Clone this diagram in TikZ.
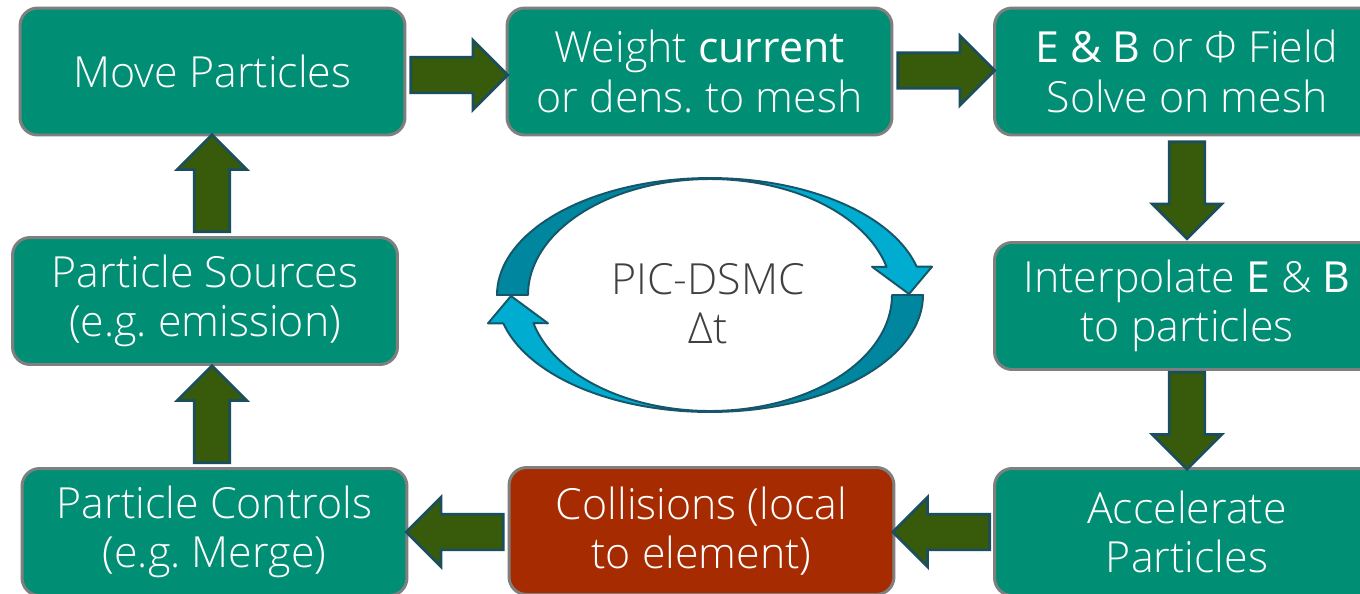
\documentclass[tikz,border=0pt]{standalone}
\usepackage{fontspec}
\setmainfont{Open Sans Light}[BoldFont=Open Sans]
\usetikzlibrary{shapes.arrows,calc}
\definecolor{boxgreen}{HTML}{008E74}
\definecolor{boxred}{HTML}{A62B00}
\definecolor{boxedge}{HTML}{7F7F7F}
\definecolor{arrowfill}{HTML}{375A0B}
\definecolor{arrowedge}{HTML}{1B4E5E}
\definecolor{looplight}{HTML}{00ACCF}
\definecolor{loopdark}{HTML}{00879F}
\definecolor{loopedge}{HTML}{17566A}
\definecolor{looptext}{HTML}{404040}

\tikzset{
  stepbox/.style={draw=boxedge, fill=boxgreen, line width=1.7pt, rounded corners=10pt,
    minimum width=7.7cm, minimum height=2.54cm, inner sep=0pt, text=white, align=center,
    font=\fontsize{24.4}{28}\selectfont},
  fatarrow/.style={single arrow, draw=arrowedge, fill=arrowfill, line width=1.5pt,
    inner xsep=0pt, inner ysep=0.33cm, single arrow head extend=0.34cm,
    single arrow tip angle=90, minimum height=1.94cm, anchor=tail},
  piece/.style={draw=loopedge, line width=1.1pt, line join=round}
}

\begin{document}
\begin{tikzpicture}[x=0.02cm, y=-0.02cm]

          \useasboundingbox (0,0) rectangle (1360,593);
          \clip (0,0) rectangle (1360,593);
          \fill[white] (0,0) rectangle (1360,593);

          \node[stepbox] (move) at (212.5,71.5) {Move Particles};
          \node[stepbox] (weight) at (699.5,71.5) {Weight \textbf{current}\\or dens.\ to mesh};
          \node[stepbox] (field) at (1187,71.5) {\textbf{E \& B} or Φ Field\\Solve on mesh};
          \node[stepbox] (interp) at (1187,306) {Interpolate \textbf{E} \& \textbf{B}\\to particles};
          \node[stepbox] (accel) at (1187,532) {Accelerate\\Particles};
          \node[stepbox, fill=boxred] (coll) at (701.5,531) {Collisions (local\\to element)};
          \node[stepbox] (ctrl) at (214.5,532) {Particle Controls\\(e.g.\ Merge)};
          \node[stepbox] (src) at (205,301) {Particle Sources\\(e.g.\ emission)};

          % block arrows between the steps
          \node[fatarrow] (a1) at ($(move.east)+(3,3.5)$) {};
          \node[fatarrow] (a2) at ($(weight.east)+(3,-1)$) {};
          \node[fatarrow, rotate=-90] (a3) at ($(field.south)+(0,4)$) {};
          \node[fatarrow, rotate=-90] (a4) at ($(interp.south)+(0,0)$) {};
          \node[fatarrow, rotate=180] (a5) at ($(accel.west)+(-2,0)$) {};
          \node[fatarrow, rotate=180] (a6) at ($(coll.west)+(-3,1)$) {};
          \node[fatarrow, rotate=90] (a7) at ($(ctrl.north)+(-2.5,-3)$) {};
          \node[fatarrow, rotate=90] (a8) at ($(src.north)+(7,-3)$) {};

          % the time step loop
          \filldraw[piece, fill=loopdark] plot[domain=180:270, samples=40] ({710+213*cos(\x)},{295+117*sin(\x)})
            -- plot[domain=270:180, samples=40] ({710+182*cos(\x)},{295+116*sin(\x)}) -- cycle;
          \filldraw[piece, fill=looplight] plot[domain=270:346, samples=40] ({710+213*cos(\x)},{295+117*sin(\x)})
            -- (932,266.7) -- (909,294) -- (872,266.7)
            -- plot[domain=346:270, samples=40] ({710+182*cos(\x)},{295+116*sin(\x)}) -- cycle;
          \filldraw[piece, fill=loopdark] plot[domain=0:90, samples=40] ({710+213*cos(\x)},{295+117*sin(\x)})
            -- plot[domain=90:0, samples=40] ({710+182*cos(\x)},{295+116*sin(\x)}) -- cycle;
          \filldraw[piece, fill=looplight] plot[domain=90:166, samples=40] ({710+213*cos(\x)},{295+117*sin(\x)})
            -- (488,323.3) -- (511,296) -- (548,323.3)
            -- plot[domain=166:90, samples=40] ({710+182*cos(\x)},{295+116*sin(\x)}) -- cycle;

          \node[text=looptext, align=center, font=\fontsize{24.4}{28}\selectfont] (dt) at (708,304) {PIC-DSMC\\Δt};

        \end{tikzpicture}
\end{document}
